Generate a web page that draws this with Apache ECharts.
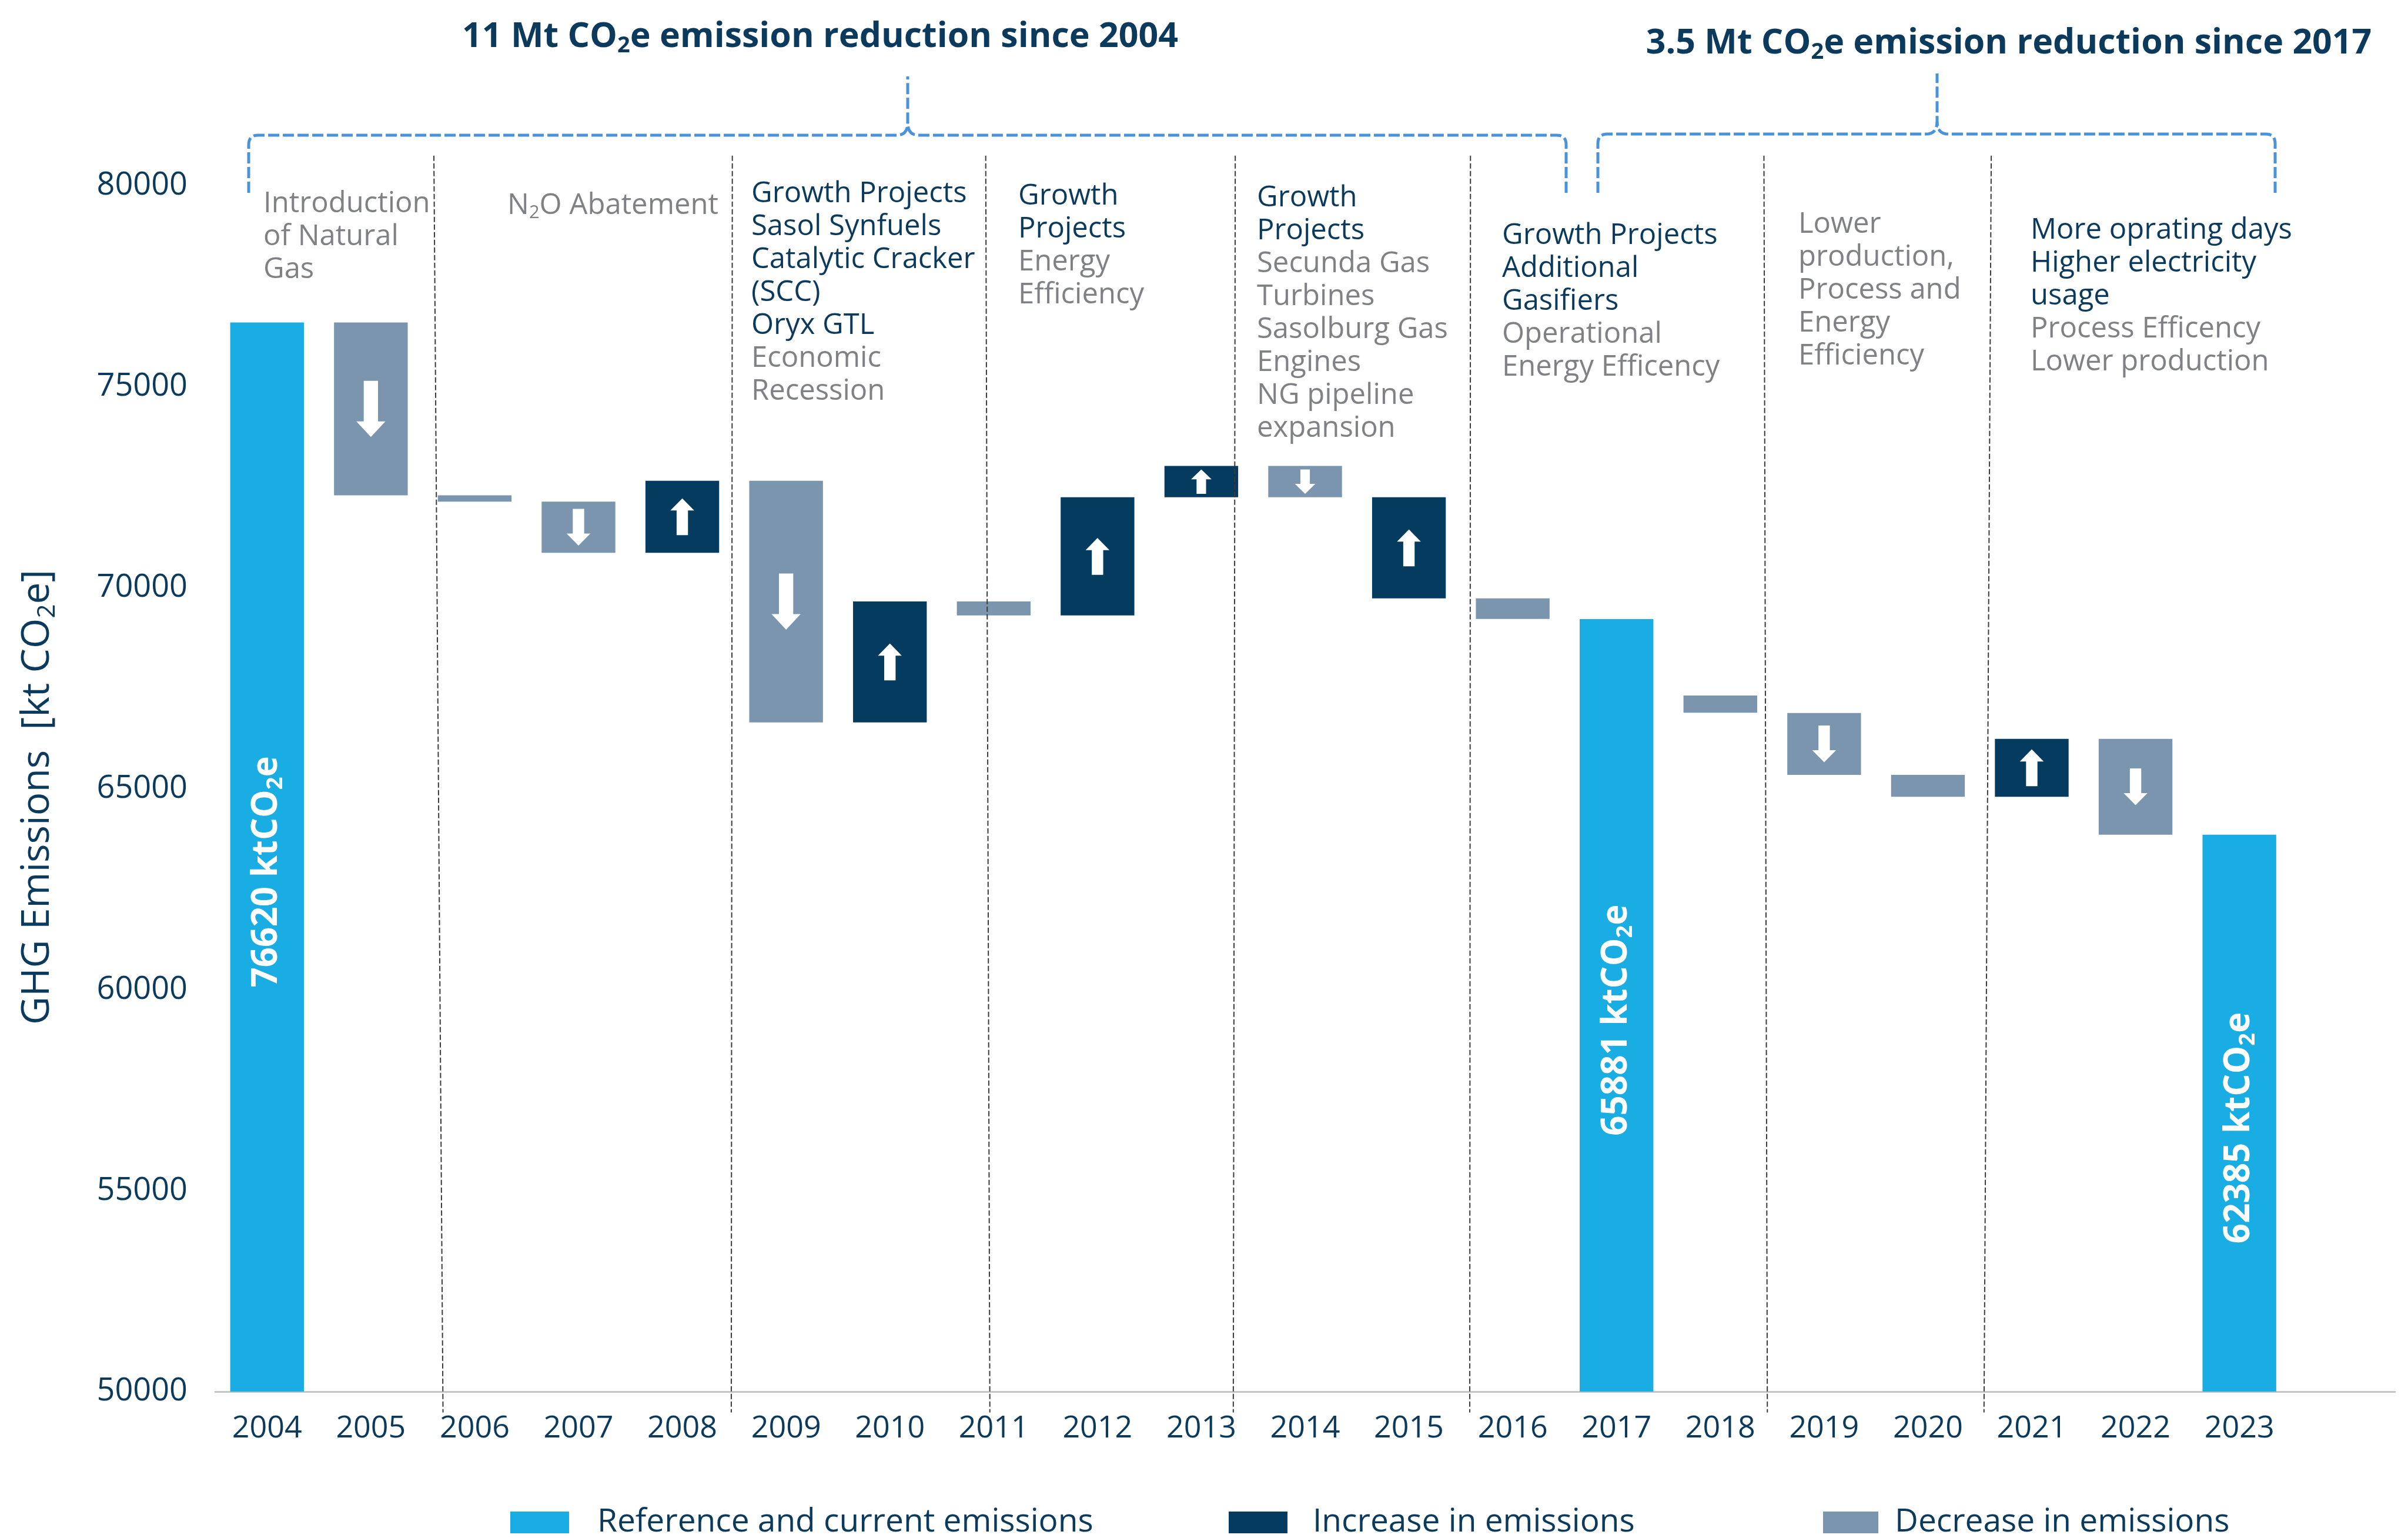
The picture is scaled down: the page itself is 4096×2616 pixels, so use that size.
<!DOCTYPE html>
<html>
<head>
<meta charset="utf-8">
<title>GHG emissions waterfall</title>
<script src="https://cdn.jsdelivr.net/npm/echarts@6/dist/echarts.min.js"></script>
<style>
html, body { margin: 0; padding: 0; background: #fff; }
#chart { width: 4096px; height: 2616px; }
</style>
</head>
<body>
<div id="chart"></div>
<script>
// values (kt CO2e)
const years = ['2004', '2005', '2006', '2007', '2008', '2009', '2010', '2011', '2012', '2013',
  '2014', '2015', '2016', '2017', '2018', '2019', '2020', '2021', '2022', '2023']
const barLow = [50000, 72300, 72140, 70870, 70870, 66650, 66650, 69310, 69310, 72250,
  72250, 69735, 69225, 50000, 66890, 65345, 64800, 64800, 63855, 50000]
const barHigh = [76600, 76600, 72300, 72140, 72660, 72660, 69660, 69660, 72250, 73030,
  73030, 72250, 69735, 69220, 67320, 66885, 65345, 66240, 66240, 63855]
const barKind = ['ref', 'dec', 'dec', 'dec', 'inc', 'dec', 'inc', 'dec', 'inc', 'inc',
  'dec', 'inc', 'dec', 'ref', 'dec', 'dec', 'dec', 'inc', 'dec', 'ref']
const refLabels = ['76620', '65881', '62385']
const yMin = 50000
const yMax = 80000
const yStep = 5000

const seriesNames = {
  ref: 'Reference and current emissions',
  inc: 'Increase in emissions',
  dec: 'Decrease in emissions'
}
const titles = ['11 Mt CO₂e emission reduction since 2004', '3.5 Mt CO₂e emission reduction since 2017']
const notes = [
  { navy: [], grey: ['Introduction', 'of Natural', 'Gas'] },
  { navy: [], grey: ['N₂O Abatement'] },
  { navy: ['Growth Projects', 'Sasol Synfuels', 'Catalytic Cracker', '(SCC)', 'Oryx GTL'], grey: ['Economic', 'Recession'] },
  { navy: ['Growth', 'Projects'], grey: ['Energy', 'Efficiency'] },
  { navy: ['Growth', 'Projects'], grey: ['Secunda Gas', 'Turbines', 'Sasolburg Gas', 'Engines', 'NG pipeline', 'expansion'] },
  { navy: ['Growth Projects', 'Additional', 'Gasifiers'], grey: ['Operational', 'Energy Efficency'] },
  { navy: [], grey: ['Lower', 'production,', 'Process and', 'Energy', 'Efficiency'] },
  { navy: ['More oprating days', 'Higher electricity', 'usage'], grey: ['Process Efficency', 'Lower production'] }
]
// dashed separators, in category units (top, bottom)
const dividerX = [[1.607, 1.695], [4.482, 4.472], [6.923, 6.963], [9.327, 9.308],
  [11.593, 11.586], [14.42, 14.453], [16.61, 16.54]]

const FONT = '"Open Sans", "Noto Sans", sans-serif'
const NAVY = '#0B3A5C'
const GREY = '#808184'
const COLORS = { ref: '#1AADE3', inc: '#053B5E', dec: '#7A95AD' }
const BRACE = '#4A93D8'

// turns "CO₂e" into rich text with a real subscript
function richText(text, key) {
  return '{' + key + '|' + text.split('₂').join('}{' + key + 's|2}{' + key + '|') + '}'
}
function richStyle(key, size, color, weight, lh) {
  const s = {}
  s[key] = { fontFamily: FONT, fontSize: size, fontWeight: weight, fill: color, color: color, lineHeight: lh }
  s[key + 's'] = { fontFamily: FONT, fontSize: Math.round(size * 0.64), fontWeight: weight, fill: color, color: color,
    verticalAlign: 'bottom', lineHeight: Math.round(size * 0.5) }
  return s
}

function arrowLength(h) {
  if (h > 250) return 95.5
  if (h >= 71) return 62.7
  if (h >= 43) return 0.78 * h
  return 0
}
function arrowPoints(cx, cy, len, up) {
  const sw = 0.151 * len + 9.9
  const hw = 0.272 * len + 23.5
  const hl = 0.175 * len + 9.7
  const d = up ? 1 : -1
  const tip = cy - d * len / 2
  const base = tip + d * hl
  const tail = cy + d * len / 2
  return [[cx, tip], [cx + hw / 2, base], [cx + sw / 2, base], [cx + sw / 2, tail],
    [cx - sw / 2, tail], [cx - sw / 2, base], [cx - hw / 2, base]]
}

function barSeries(kind) {
  const data = []
  years.forEach((y, i) => {
    if (barKind[i] === kind) data.push([i, barLow[i], barHigh[i]])
  })
  return {
    name: seriesNames[kind],
    type: 'custom',
    itemStyle: { color: COLORS[kind] },
    encode: { x: 0, y: [1, 2] },
    data: data,
    renderItem: function(params, api) {
      const i = api.value(0)
      const top = api.coord([i, api.value(2)])
      const bottom = api.coord([i, api.value(1)])
      const w = api.size([1, 0])[0] * 0.71
      const h = bottom[1] - top[1]
      const cy = (top[1] + bottom[1]) / 2
      const children = [{
        type: 'rect',
        shape: { x: top[0] - w / 2, y: top[1], width: w, height: h },
        style: { fill: COLORS[kind] }
      }]
      if (kind === 'ref') {
        children.push({
          type: 'text',
          x: top[0],
          y: cy + 25,
          rotation: Math.PI / 2,
          style: {
            text: richText(refLabels[params.dataIndex] + ' ktCO₂e', 'b'),
            rich: richStyle('b', 60, '#fff', 'bold', 68),
            align: 'center',
            verticalAlign: 'middle'
          }
        })
      } else {
        const len = arrowLength(h)
        if (len) {
          children.push({
            type: 'polygon',
            shape: { points: arrowPoints(top[0], cy, len, kind === 'inc') },
            style: { fill: '#fff' }
          })
        }
      }
      return { type: 'group', children: children }
    }
  }
}

// category axis snaps to whole categories, so interpolate between neighbours
function coordAt(api, x, y) {
  const i = Math.floor(x)
  const a = api.coord([i, y])
  const b = api.coord([i + 1, y])
  return [a[0] + (b[0] - a[0]) * (x - i), a[1]]
}

// quadratic corner sampled into points
function quad(p0, c, p1) {
  const pts = []
  for (let t = 0; t <= 1.0001; t += 0.125) {
    const a = (1 - t) * (1 - t), b = 2 * (1 - t) * t, d = t * t
    pts.push([a * p0[0] + b * c[0] + d * p1[0], a * p0[1] + b * c[1] + d * p1[1]])
  }
  return pts
}
function braceHalves(x0, x1, xp, yh, yEnd, yTop) {
  const r = 16, rp = 19, hp = 21
  const left = [[x0, yEnd]].concat(quad([x0, yh + r], [x0, yh], [x0 + r, yh]),
    quad([xp - rp, yh], [xp, yh], [xp, yh - hp]), [[xp, yTop]])
  const right = [[x1, yEnd]].concat(quad([x1, yh + r], [x1, yh], [x1 - r, yh]),
    quad([xp + rp, yh], [xp, yh], [xp, yh - hp]))
  return [left, right]
}

const notePos = [[448, 319], [863, 322], [1278, 302], [1732, 306], [2138, 309], [2555, 373], [3059, 354], [3454, 364]]
const noteRich = Object.assign({}, richStyle('n', 49, NAVY, 'normal', 56), richStyle('g', 49, GREY, 'normal', 56))

const graphic = []
graphic.push({
  type: 'text', x: 1395, y: 63,
  style: { text: richText(titles[0], 't'), rich: richStyle('t', 59, NAVY, 'bold', 68), align: 'center', verticalAlign: 'middle' }
})
graphic.push({
  type: 'text', x: 3417, y: 74,
  style: { text: richText(titles[1], 't'), rich: richStyle('t', 59, NAVY, 'bold', 68), align: 'center', verticalAlign: 'middle' }
})
braceHalves(423, 2664, 1544, 230, 328, 130).concat(braceHalves(2718, 3870, 3295, 228, 328, 125)).forEach(pts => {
  graphic.push({
    type: 'polyline',
    shape: { points: pts },
    style: { fill: null, stroke: BRACE, lineWidth: 5, lineDash: [19, 6] }
  })
})
notes.forEach((note, k) => {
  const lines = note.navy.map(l => richText(l, 'n')).concat(note.grey.map(l => richText(l, 'g')))
  graphic.push({
    type: 'text', x: notePos[k][0], y: notePos[k][1],
    style: { text: lines.join('\n'), rich: noteRich, align: 'left', verticalAlign: 'top' }
  })
})
graphic.push({
  type: 'text', x: 64, y: 1356, rotation: Math.PI / 2,
  style: { text: richText('GHG Emissions  [kt CO₂e]', 'y'), rich: richStyle('y', 66, NAVY, 'normal', 76), align: 'center', verticalAlign: 'middle' }
})

const legendLayout = {
  ref: { left: 868, icon: 100, gap: 43 },
  inc: { left: 2090, icon: 100, gap: 38 },
  dec: { left: 3101, icon: 94, gap: 23 }
}
const legend = ['ref', 'inc', 'dec'].map(kind => ({
  data: [seriesNames[kind]],
  left: legendLayout[kind].left,
  top: 2562,
  icon: 'rect',
  itemWidth: legendLayout[kind].icon,
  itemHeight: 37,
  padding: 0,
  selectedMode: false,
  textStyle: { color: NAVY, fontSize: 55, fontFamily: FONT, padding: [0, 0, 12, legendLayout[kind].gap] }
}))

const chart = echarts.init(document.getElementById('chart'))
chart.setOption({
  animation: false,
  backgroundColor: '#fff',
  textStyle: { fontFamily: FONT },
  grid: { left: 366, right: 22, top: 316, bottom: 249 },
  legend: legend,
  xAxis: {
    type: 'category',
    data: years.concat(['']),
    axisTick: { show: false },
    axisLine: { lineStyle: { color: '#C6C6C6', width: 3 } },
    axisLabel: { interval: 0, color: NAVY, fontSize: 52, margin: 37, fontFamily: FONT }
  },
  yAxis: {
    type: 'value',
    min: yMin,
    max: yMax,
    interval: yStep,
    splitLine: { show: false },
    axisLine: { show: false },
    axisTick: { show: false },
    axisLabel: { color: NAVY, fontSize: 54, margin: 47, fontFamily: FONT, formatter: v => String(v) }
  },
  series: [
    barSeries('ref'),
    barSeries('inc'),
    barSeries('dec'),
    {
      type: 'custom',
      z: 5,
      silent: true,
      encode: { x: [0, 1] },
      data: dividerX,
      renderItem: function(params, api) {
        const p0 = coordAt(api, api.value(0), 80750)
        const p1 = coordAt(api, api.value(1), 49480)
        return {
          type: 'line',
          shape: { x1: p0[0], y1: p0[1], x2: p1[0], y2: p1[1] },
          style: { stroke: '#3A3A3A', lineWidth: 2, lineDash: [9, 4] }
        }
      }
    }
  ],
  graphic: graphic
})
</script>
</body>
</html>
